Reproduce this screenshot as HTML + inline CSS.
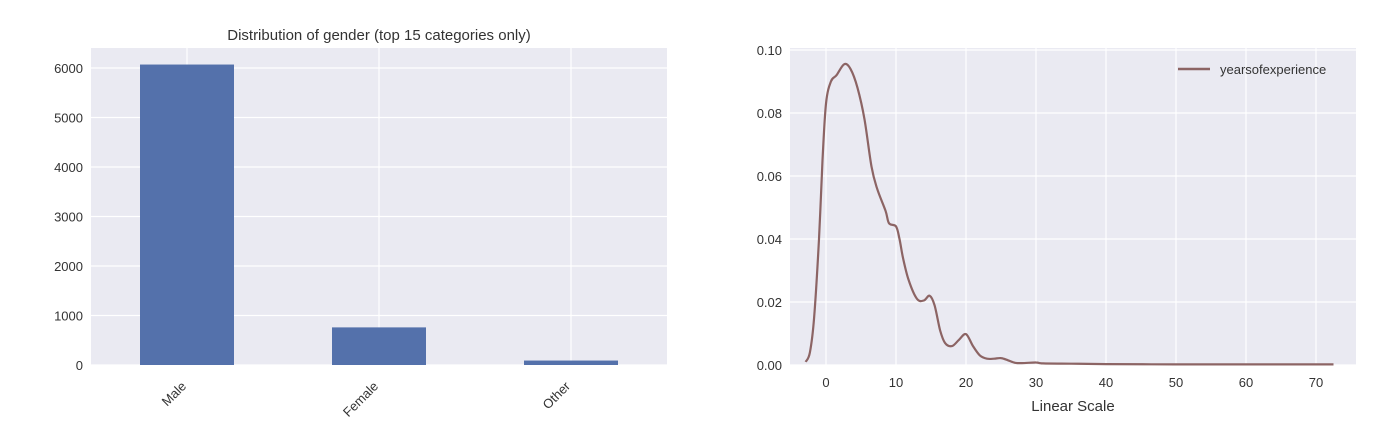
<!DOCTYPE html>
<html><head><meta charset="utf-8"><style>
body{margin:0;background:#fff;}
svg{display:block;font-family:"Liberation Sans",sans-serif;}
</style></head><body>
<svg id="c" width="1400" height="435"></svg>
<script>
const barCategories=["Male","Female","Other"];
const barValues=[6070,760,90];
const barYTicks=[0,1000,2000,3000,4000,5000,6000];
const kdeX=[-2.9,-2.3,-1.7,-1,-0.5,0,0.7,1.5,2.6,3.5,4.5,5.5,6.5,7.3,8.5,9,10,10.5,11,11.8,13,14,14.8,15.5,16.3,17,18,19,20,21,22,23,24,25,26,27,28,30,31,35,40,50,60,72.5];
const kdeY=[0.001,0.004,0.015,0.04,0.065,0.083,0.09,0.092,0.0955,0.094,0.088,0.078,0.063,0.056,0.049,0.045,0.044,0.040,0.034,0.027,0.021,0.0205,0.022,0.019,0.011,0.007,0.006,0.008,0.0098,0.006,0.003,0.002,0.002,0.0022,0.0015,0.0007,0.0006,0.0008,0.0005,0.0004,0.0003,0.0002,0.0002,0.0002];
const kdeXTicks=[0,10,20,30,40,50,60,70];
const kdeYTicks=[0,0.02,0.04,0.06,0.08,0.10];
const NS="http://www.w3.org/2000/svg";
const svg=document.getElementById('c');
function mk(t,a,p){const e=document.createElementNS(NS,t);for(const k in a)e.setAttribute(k,a[k]);(p||svg).appendChild(e);return e;}
// Left chart
const L={x0:91,x1:667,y0:365,y1:48};
const bx=i=>L.x0+(i+0.5)*(L.x1-L.x0)/barCategories.length;
const by=v=>L.y0-v*(365-68)/6000;
let g=mk('g',{});


let r=mk('rect',{x:L.x0,y:L.y1,width:L.x1-L.x0,height:L.y0-L.y1,fill:'#eaeaf2'},g);


barYTicks.forEach(v=>{const y=by(v);
 const l=mk('line',{x1:L.x0,x2:L.x1,y1:y,y2:y,stroke:'#fff','stroke-width':1.2},g);
 
 
 const t=mk('text',{x:L.x0-8,y:y+5,'text-anchor':'end','font-size':13,fill:'#333'},g);t.textContent=v;
 
 });
barCategories.forEach((c,i)=>{const x=bx(i);
 const l=mk('line',{x1:x,x2:x,y1:L.y1,y2:L.y0,stroke:'#fff','stroke-width':1.2},g);
 
 });
barCategories.forEach((c,i)=>{const x=bx(i),w=94;
 const b=mk('rect',{x:x-w/2,y:by(barValues[i]),width:w,height:L.y0-by(barValues[i]),fill:'#5471ab'},g);
 
 
 const ax=x,ay=L.y0+22;
 const t=mk('text',{x:ax,y:ay,'text-anchor':'end','font-size':13,fill:'#333',transform:`rotate(-45 ${ax} ${ay})`},g);t.textContent=c;
 
 });
let tt=mk('text',{x:(L.x0+L.x1)/2,y:40,'text-anchor':'middle','font-size':15,fill:'#333'},g);tt.textContent='Distribution of gender (top 15 categories only)';


// Right chart
const R={x0:790,x1:1356,y0:365,y1:48};
const kx=v=>826+v*(1316-826)/70;
const ky=v=>365-v*(365-50)/0.10;
let g2=mk('g',{});


r=mk('rect',{x:R.x0,y:R.y1,width:R.x1-R.x0,height:R.y0-R.y1,fill:'#eaeaf2'},g2);


kdeYTicks.forEach(v=>{const y=ky(v);
 const l=mk('line',{x1:R.x0,x2:R.x1,y1:y,y2:y,stroke:'#fff','stroke-width':1.2},g2);
 
 
 const t=mk('text',{x:R.x0-8,y:y+5,'text-anchor':'end','font-size':13,fill:'#333'},g2);t.textContent=v.toFixed(2);
 
 });
kdeXTicks.forEach(v=>{const x=kx(v);
 const l=mk('line',{x1:x,x2:x,y1:R.y1,y2:R.y0,stroke:'#fff','stroke-width':1.2},g2);
 
 
 const t=mk('text',{x:x,y:R.y0+22,'text-anchor':'middle','font-size':13,fill:'#333'},g2);t.textContent=v;
 
 });
// smooth path (Catmull-Rom)
const pts=kdeX.map((x,i)=>[kx(x),ky(kdeY[i])]);
let d='M'+pts[0][0].toFixed(1)+','+pts[0][1].toFixed(1);
for(let i=0;i<pts.length-1;i++){
 const p0=pts[Math.max(0,i-1)],p1=pts[i],p2=pts[i+1],p3=pts[Math.min(pts.length-1,i+2)];
 const c1=[p1[0]+(p2[0]-p0[0])/6,p1[1]+(p2[1]-p0[1])/6];
 const c2=[p2[0]-(p3[0]-p1[0])/6,p2[1]-(p3[1]-p1[1])/6];
 d+=`C${c1[0].toFixed(1)},${c1[1].toFixed(1)} ${c2[0].toFixed(1)},${c2[1].toFixed(1)} ${p2[0].toFixed(1)},${p2[1].toFixed(1)}`;
}
const p=mk('path',{d:d,fill:'none',stroke:'#8c6464','stroke-width':2.2,'stroke-linejoin':'round'},g2);


const ll=mk('line',{x1:1178,x2:1210,y1:69,y2:69,stroke:'#8c6464','stroke-width':2.5},g2);


const lt=mk('text',{x:1220,y:74,'font-size':13,fill:'#333'},g2);lt.textContent='yearsofexperience';


const xl=mk('text',{x:(R.x0+R.x1)/2,y:411,'text-anchor':'middle','font-size':15,fill:'#333'},g2);xl.textContent='Linear Scale';


</script>
</body></html>
